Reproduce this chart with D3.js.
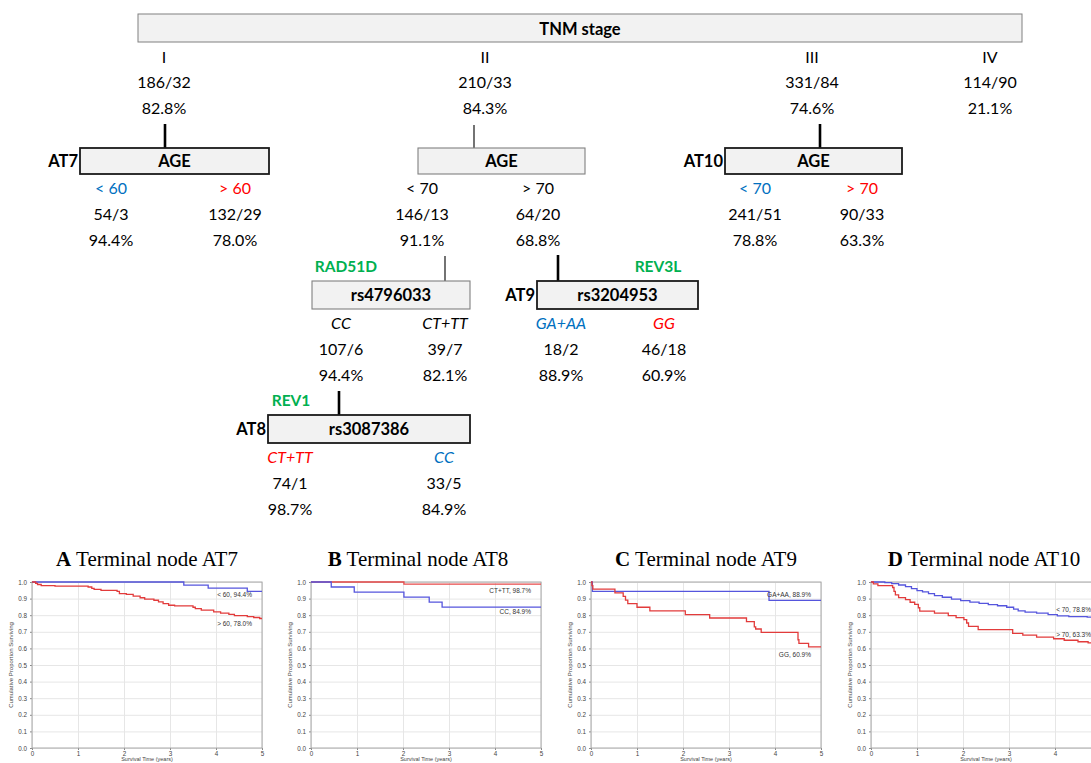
<!DOCTYPE html>
<html>
<head>
<meta charset="utf-8">
<title>TNM stage survival tree</title>
<script src="https://cdn.jsdelivr.net/npm/d3@7"></script>
<style>
  body { margin: 0; background: #fff; }
  .tree text { font-family: Lato, "Open Sans", sans-serif; }
  .km text { font-family: "Liberation Sans", Arial, sans-serif; }
</style>
</head>
<body>
<div id="chart"></div>
<script>
// ---- tree data ----
var stages = ["I", "II", "III", "IV"];
var stageCounts = ["186/32", "210/33", "331/84", "114/90"];
var stageRates = ["82.8%", "84.3%", "74.6%", "21.1%"];

var splitNames = ["AGE", "AGE", "AGE", "rs4796033", "rs3204953", "rs3087386"];
var splitTags = ["AT7", "", "AT10", "", "AT9", "AT8"];
var splitGenes = ["", "", "", "RAD51D", "REV3L", "REV1"];
var branchLabels = [["< 60", "> 60"], ["< 70", "> 70"], ["< 70", "> 70"], ["CC", "CT+TT"], ["GA+AA", "GG"], ["CT+TT", "CC"]];
var branchCounts = [["54/3", "132/29"], ["146/13", "64/20"], ["241/51", "90/33"], ["107/6", "39/7"], ["18/2", "46/18"], ["74/1", "33/5"]];
var branchRates = [["94.4%", "78.0%"], ["91.1%", "68.8%"], ["78.8%", "63.3%"], ["94.4%", "82.1%"], ["88.9%", "60.9%"], ["98.7%", "84.9%"]];

// ---- Kaplan-Meier data: [years, cumulative proportion surviving] ----
var panelLetters = ["A", "B", "C", "D"];
var panelTitles = ["Terminal node AT7", "Terminal node AT8", "Terminal node AT9", "Terminal node AT10"];
var yearTicks = [0, 1, 2, 3, 4, 5];
var survTicks = [0, 0.1, 0.2, 0.3, 0.4, 0.5, 0.6, 0.7, 0.8, 0.9, 1.0];

var at7Under60 = [[0,1],[3.30,0.981],[3.83,0.963],[4.68,0.944],[5,0.944]];
var at7Over60 = [[0,1],[0.08,0.992],[0.12,0.985],[0.2,0.978],[0.5,0.975],[1.22,0.97],[1.3,0.962],[1.35,0.955],[1.5,0.95],
  [1.85,0.943],[1.9,0.93],[2.05,0.925],[2.2,0.915],[2.35,0.905],[2.45,0.897],[2.65,0.89],[2.75,0.88],[2.85,0.87],
  [2.97,0.86],[3.1,0.856],[3.5,0.848],[3.55,0.84],[3.68,0.83],[3.95,0.82],[4.1,0.813],[4.28,0.805],[4.4,0.797],
  [4.68,0.792],[4.82,0.786],[4.95,0.78],[5,0.78]];
var at8CtTt = [[0,1],[2.02,0.987],[5,0.987]];
var at8Cc = [[0,1],[0.44,0.970],[0.94,0.939],[2.02,0.909],[2.57,0.879],[2.85,0.849],[5,0.849]];
var at9GaAa = [[0,1],[0.03,0.944],[3.87,0.889],[5,0.889]];
var at9Gg = [[0,1],[0.02,0.978],[0.04,0.957],[0.52,0.935],[0.70,0.913],[0.75,0.891],[0.80,0.870],[1.0,0.848],
  [1.28,0.826],[2.05,0.804],[2.58,0.783],[3.38,0.761],[3.55,0.730],[3.58,0.717],[3.70,0.696],[4.50,0.652],
  [4.52,0.630],[4.73,0.609],[5,0.609]];
var at10Under70 = [[0,1],[0.3,0.996],[0.45,0.99],[0.6,0.982],[0.75,0.972],[0.88,0.96],[1.0,0.948],[1.12,0.94],
  [1.25,0.93],[1.38,0.918],[1.55,0.908],[1.75,0.897],[1.95,0.888],[2.15,0.879],[2.35,0.871],[2.55,0.864],
  [2.75,0.857],[2.95,0.848],[3.1,0.836],[3.2,0.826],[3.35,0.818],[3.6,0.812],[3.85,0.803],[4.05,0.796],
  [4.3,0.791],[4.7,0.789],[4.95,0.788],[5,0.788]];
var at10Over70 = [[0,1],[0.05,0.989],[0.15,0.978],[0.47,0.967],[0.5,0.944],[0.53,0.922],[0.6,0.906],[0.75,0.894],
  [0.85,0.878],[0.95,0.865],[1.03,0.845],[1.06,0.825],[1.38,0.813],[1.68,0.797],[1.85,0.785],[2.02,0.773],
  [2.08,0.753],[2.12,0.733],[2.33,0.713],[3.08,0.69],[3.3,0.68],[3.6,0.668],[3.97,0.658],[4.2,0.649],
  [4.5,0.64],[4.72,0.633],[5,0.633]];

var kmCurves = [[at7Under60, at7Over60], [at8CtTt, at8Cc], [at9GaAa, at9Gg], [at10Under70, at10Over70]];
var kmLabels = [["< 60, 94.4%", "> 60, 78.0%"], ["CT+TT, 98.7%", "CC, 84.9%"], ["GA+AA, 88.9%", "GG, 60.9%"], ["< 70, 78.8%", "> 70, 63.3%"]];

// ---- drawing ----
var width = 1091, height = 763;
var blue = "#0070c0", red = "#ff0000", green = "#00b050";
var svg = d3.select("#chart").append("svg").attr("width", width).attr("height", height);
var tree = svg.append("g").attr("class", "tree");

// root box
tree.append("rect").attr("x", 138).attr("y", 14).attr("width", 884).attr("height", 28)
  .attr("fill", "#f2f2f2").attr("stroke", "#808080");
tree.append("text").attr("x", 580).attr("y", 35).attr("text-anchor", "middle")
  .style("font-weight", "bold").style("font-size", "16.5px").text("TNM stage");

var stageX = [164, 485, 812, 990];
stages.forEach(function(s, i) {
  var g = tree.append("g").attr("text-anchor", "middle").style("font-size", "16px");
  g.append("text").attr("x", stageX[i]).attr("y", 63).text(s);
  g.append("text").attr("x", stageX[i]).attr("y", 88).text(stageCounts[i]);
  g.append("text").attr("x", stageX[i]).attr("y", 114).text(stageRates[i]);
});

// split boxes (layout only)
var boxes = [
  {x0: 80, x1: 269, y0: 148, h: 26, stem: 165, stemTop: 124, kids: [111, 235], thick: true, gene: 0},
  {x0: 418, x1: 585, y0: 148, h: 26, stem: 474, stemTop: 125, kids: [422, 538], thick: false, gene: 0},
  {x0: 725, x1: 902, y0: 148, h: 26, stem: 820, stemTop: 124, kids: [755, 862], thick: true, gene: 0},
  {x0: 312, x1: 470, y0: 281, h: 28, stem: 445, stemTop: 256, kids: [341, 445], thick: false, gene: 346},
  {x0: 537, x1: 698, y0: 281, h: 28, stem: 558, stemTop: 255, kids: [561, 664], thick: true, gene: 658},
  {x0: 268, x1: 470, y0: 415, h: 28, stem: 339, stemTop: 391, kids: [290, 444], thick: true, gene: 291}
];
var kidColors = [[blue, red], ["#000", "#000"], [blue, red], ["#000", "#000"], [blue, red], [red, blue]];
var kidItalic = [false, false, false, true, true, true];

boxes.forEach(function(b, i) {
  tree.append("line").attr("x1", b.stem).attr("x2", b.stem).attr("y1", b.stemTop).attr("y2", b.y0)
    .attr("stroke", "#000").attr("stroke-width", b.thick ? 2.6 : 1.1);
  tree.append("rect").attr("x", b.x0).attr("y", b.y0).attr("width", b.x1 - b.x0).attr("height", b.h)
    .attr("fill", "#f2f2f2")
    .attr("stroke", b.thick ? "#1a1a1a" : "#808080")
    .attr("stroke-width", b.thick ? 1.8 : 1.1);
  var base = b.y0 + b.h / 2 + 6;
  tree.append("text").attr("x", (b.x0 + b.x1) / 2).attr("y", base).attr("text-anchor", "middle")
    .style("font-weight", "bold").style("font-size", "16.5px").text(splitNames[i]);
  if (splitTags[i]) {
    tree.append("text").attr("x", b.x0 - 2).attr("y", base).attr("text-anchor", "end")
      .style("font-weight", "bold").style("font-size", "16.5px").text(splitTags[i]);
  }
  if (splitGenes[i]) {
    tree.append("text").attr("x", b.gene).attr("y", b.y0 - 9).attr("text-anchor", "middle")
      .attr("fill", green).style("font-weight", "bold").style("font-size", "15.5px").text(splitGenes[i]);
  }
  var y1 = b.y0 + b.h;
  b.kids.forEach(function(kx, k) {
    var g = tree.append("g").attr("text-anchor", "middle").style("font-size", "16px");
    g.append("text").attr("x", kx).attr("y", y1 + 20).attr("fill", kidColors[i][k])
      .style("font-style", kidItalic[i] ? "italic" : "normal").text(branchLabels[i][k]);
    g.append("text").attr("x", kx).attr("y", y1 + 46).text(branchCounts[i][k]);
    g.append("text").attr("x", kx).attr("y", y1 + 72).text(branchRates[i][k]);
  });
});

// ---- KM panels ----
var panelLeft = [32, 311, 591, 871], plotW = 230, plotTop = 582, plotBottom = 748;
var titleShift = [0, -8, 0, -2];
var curveColors = [["#5555dd", "#e23b3b"], ["#e84a4a", "#5555dd"], ["#5555dd", "#e23b3b"], ["#5555dd", "#e23b3b"]];
var labelAt = [[0.907, 0.732], [0.931, 0.810], [0.907, 0.551], [0.822, 0.666]];

panelLeft.forEach(function(left, p) {
  var x = d3.scaleLinear().domain([0, 5]).range([left, left + plotW]);
  var y = d3.scaleLinear().domain([0, 1]).range([plotBottom, plotTop]);
  var g = svg.append("g").attr("class", "km");

  // grid
  g.append("g").attr("transform", "translate(" + left + ",0)")
    .call(d3.axisLeft(y).tickValues(survTicks).tickSize(-plotW).tickFormat(""))
    .call(function(a) { a.select(".domain").remove(); a.selectAll("line").attr("stroke", "#e6e6e6"); });
  g.append("g").attr("transform", "translate(0," + plotBottom + ")")
    .call(d3.axisBottom(x).tickValues(yearTicks).tickSize(-(plotBottom - plotTop)).tickFormat(""))
    .call(function(a) { a.select(".domain").remove(); a.selectAll("line").attr("stroke", "#e6e6e6"); });

  // axes labels
  g.append("g").attr("transform", "translate(" + left + ",0)")
    .call(d3.axisLeft(y).tickValues(survTicks).tickSize(2).tickPadding(3).tickFormat(d3.format(".1f")))
    .call(function(a) {
      a.select(".domain").remove();
      a.selectAll("line").attr("stroke", "#888");
      a.selectAll("text").attr("fill", "#444").style("font-size", "6.3px");
    });
  g.append("g").attr("transform", "translate(0," + plotBottom + ")")
    .call(d3.axisBottom(x).tickValues(yearTicks).tickSize(2).tickPadding(1.5).tickFormat(d3.format("d")))
    .call(function(a) {
      a.select(".domain").remove();
      a.selectAll("line").attr("stroke", "#888");
      a.selectAll("text").attr("fill", "#444").style("font-size", "6.3px");
    });

  g.append("rect").attr("x", left).attr("y", plotTop).attr("width", plotW).attr("height", plotBottom - plotTop)
    .attr("fill", "none").attr("stroke", "#a8a8a8").attr("stroke-width", 1);

  g.append("text").attr("transform", "translate(" + (left - 19) + "," + ((plotTop + plotBottom) / 2) + ") rotate(-90)")
    .attr("text-anchor", "middle").attr("fill", "#444").style("font-size", "6px")
    .text("Cumulative Proportion Surviving");
  g.append("text").attr("x", left + plotW / 2).attr("y", 761).attr("text-anchor", "middle")
    .attr("fill", "#444").style("font-size", "5.5px").text("Survival Time (years)");

  // curves
  var line = d3.line().x(function(d) { return x(d[0]); }).y(function(d) { return y(d[1]); }).curve(d3.curveStepAfter);
  kmCurves[p].forEach(function(c, k) {
    g.append("path").datum(c).attr("d", line).attr("fill", "none")
      .attr("stroke", curveColors[p][k]).attr("stroke-width", 1.3);
    g.append("text").attr("x", left + 220).attr("y", y(labelAt[p][k])).attr("text-anchor", "end")
      .attr("fill", "#333").style("font-size", "6.5px").text(kmLabels[p][k]);
  });

  // title
  var t = svg.append("text").attr("x", left + plotW / 2 + titleShift[p]).attr("y", 566).attr("text-anchor", "middle")
    .style("font-family", "'Liberation Serif', 'Times New Roman', serif").style("font-size", "21px");
  t.append("tspan").style("font-weight", "bold").text(panelLetters[p]);
  t.append("tspan").text(" " + panelTitles[p]);
});
</script>
</body>
</html>
